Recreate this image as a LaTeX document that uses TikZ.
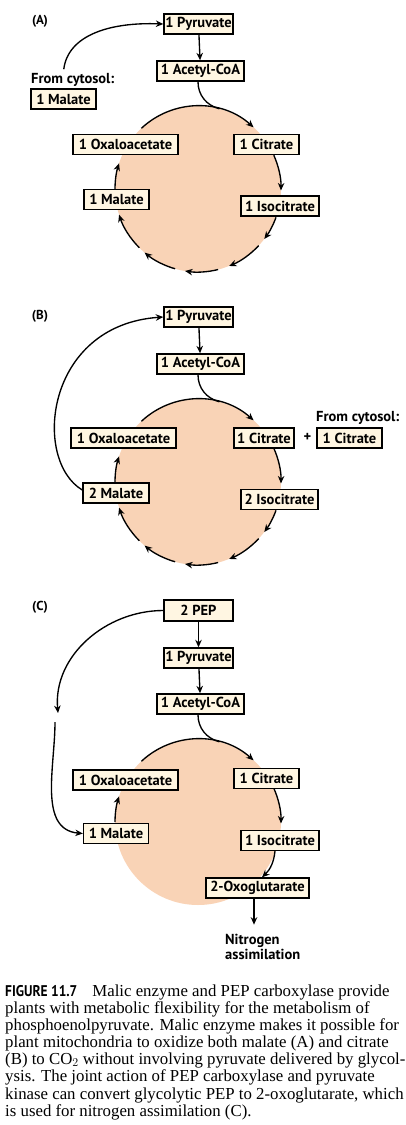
\documentclass[tikz,border=0pt]{standalone}
\usepackage{fontspec}
\usepackage{graphicx}
\setmainfont{Liberation Serif}
\newfontfamily\labfont{PT Sans}
\usetikzlibrary{arrows.meta}
\definecolor{boxfill}{HTML}{FFF6E2}
\definecolor{circfill}{HTML}{F9D3B6}
\tikzset{
 box/.style={draw=black, line width=1.4pt, fill=boxfill, inner sep=0pt, minimum height=20pt,
   font=\labfont\bfseries\fontsize{14.5}{16}\selectfont},
 lab/.style={inner sep=0pt, font=\labfont\bfseries\fontsize{14.5}{16}\selectfont},
 plab/.style={inner sep=0pt, font=\labfont\bfseries\fontsize{13}{15}\selectfont},
 arr/.style={line width=1.35pt, -{Stealth[length=7.5pt,width=6.5pt]}},
 cyc/.style={line width=1.35pt},
 capline/.style={anchor=base west, inner sep=0pt, font=\fontsize{16.8}{17}\selectfont},
}
\begin{document}
\begin{tikzpicture}[x=1pt,y=1pt]
\useasboundingbox (0,0) rectangle (405,-1125);
% ================= Panel A =================
\coordinate (aC) at (198,-189);
\fill[circfill] (aC) circle (83pt);
\draw[arr] ([shift={(133:83pt)}]aC) arc[start angle=133,end angle=48,radius=83pt];
\draw[arr] ([shift={(24:83pt)}]aC) arc[start angle=24,end angle=-1,radius=83pt];
\draw[arr] ([shift={(-20:83pt)}]aC) arc[start angle=-20,end angle=-37,radius=83pt];
\draw[arr] ([shift={(-43:83pt)}]aC) arc[start angle=-43,end angle=-68,radius=83pt];
\draw[arr] ([shift={(-76:83pt)}]aC) arc[start angle=-76,end angle=-99,radius=83pt];
\draw[arr] ([shift={(-106:83pt)}]aC) arc[start angle=-106,end angle=-130,radius=83pt];
\draw[arr] ([shift={(-135:83pt)}]aC) arc[start angle=-135,end angle=-162,radius=83pt];
\draw[arr] ([shift={(180:83pt)}]aC) arc[start angle=180,end angle=162,radius=83pt];
\coordinate (aJ) at ([shift={(75:83pt)}]aC);
\node[plab] (aLab) at (40,-21) {(A)};
\node[box, minimum width=69pt] (aPyr) at (198.5,-24) {1 Pyruvate};
\node[box, minimum width=87pt] (aAce) at (200.5,-71) {1 Acetyl-CoA};
\node[lab, anchor=west] (aFrom) at (31,-80) {From cytosol:};
\node[box, minimum width=65pt] (aMalc) at (63.5,-99) {1 Malate};
\node[box, minimum width=105pt] (aOxa) at (125.5,-144.5) {1 Oxaloacetate};
\node[box, minimum width=65pt] (aCit) at (266.5,-144.5) {1 Citrate};
\node[box, minimum width=65pt] (aMal) at (116.5,-199.5) {1 Malate};
\node[box, minimum width=78pt] (aIso) at (280,-206) {1 Isocitrate};
\draw[arr] (aPyr) -- (aAce);
\draw[cyc] ([xshift=-2.5pt]aAce.south) to[out=-90,in=165] (aJ);
\draw[arr] ([xshift=-9pt,yshift=4pt]aFrom.north) .. controls (68,-35) and (110,-22) .. (aPyr.west);
% ================= Panel B =================
\coordinate (bC) at (198,-482);
\fill[circfill] (bC) circle (83pt);
\draw[arr] ([shift={(133:83pt)}]bC) arc[start angle=133,end angle=48,radius=83pt];
\draw[arr] ([shift={(24:83pt)}]bC) arc[start angle=24,end angle=-1,radius=83pt];
\draw[arr] ([shift={(-20:83pt)}]bC) arc[start angle=-20,end angle=-37,radius=83pt];
\draw[arr] ([shift={(-43:83pt)}]bC) arc[start angle=-43,end angle=-68,radius=83pt];
\draw[arr] ([shift={(-76:83pt)}]bC) arc[start angle=-76,end angle=-99,radius=83pt];
\draw[arr] ([shift={(-106:83pt)}]bC) arc[start angle=-106,end angle=-130,radius=83pt];
\draw[arr] ([shift={(-135:83pt)}]bC) arc[start angle=-135,end angle=-162,radius=83pt];
\draw[arr] ([shift={(180:83pt)}]bC) arc[start angle=180,end angle=162,radius=83pt];
\coordinate (bJ) at ([shift={(75:83pt)}]bC);
\node[plab] (bLab) at (40,-316) {(B)};
\node[box, minimum width=69pt] (bPyr) at (198.5,-317) {1 Pyruvate};
\node[box, minimum width=87pt] (bAce) at (200.5,-364) {1 Acetyl-CoA};
\node[box, minimum width=105pt] (bOxa) at (123.5,-438) {1 Oxaloacetate};
\node[box, minimum width=60pt] (bCit) at (264,-438) {1 Citrate};
\node[lab] (bPlus) at (307.5,-437) {+};
\node[lab, anchor=west] (bFrom) at (316,-418) {From cytosol:};
\node[box, minimum width=65pt] (bCitc) at (349.5,-438) {1 Citrate};
\node[box, minimum width=66pt] (bMal) at (116,-493) {2 Malate};
\node[box, minimum width=77pt] (bIso) at (279.5,-499.5) {2 Isocitrate};
\draw[arr] (bPyr) -- (bAce);
\draw[cyc] ([xshift=-2.5pt]bAce.south) to[out=-90,in=165] (bJ);
\draw[arr] ([yshift=3pt]bMal.west) .. controls (32,-460) and (45,-325) .. (bPyr.west);
% ================= Panel C =================
\coordinate (cC) at (198,-822);
\fill[circfill] (cC) circle (83pt);
\draw[arr] ([shift={(133:83pt)}]cC) arc[start angle=133,end angle=48,radius=83pt];
\draw[arr] ([shift={(24:83pt)}]cC) arc[start angle=24,end angle=-1,radius=83pt];
\draw[arr] ([shift={(180:83pt)}]cC) arc[start angle=180,end angle=162,radius=83pt];
\coordinate (cJ) at ([shift={(75:83pt)}]cC);
\node[plab] (cLab) at (40,-607) {(C)};
\node[box, minimum width=69pt, minimum height=21pt] (cPEP) at (198.5,-610.5) {2 PEP};
\node[box, minimum width=69pt] (cPyr) at (198.5,-658) {1 Pyruvate};
\node[box, minimum width=87pt] (cAce) at (200.5,-704) {1 Acetyl-CoA};
\node[box, minimum width=105pt] (cOxa) at (125.5,-780) {1 Oxaloacetate};
\node[box, minimum width=65pt] (cCit) at (266.5,-778.5) {1 Citrate};
\node[box, minimum width=65pt] (cMal) at (116,-833.5) {1 Malate};
\node[box, minimum width=78pt] (cIso) at (280,-840.5) {1 Isocitrate};
\node[box, minimum width=103pt] (cOxo) at (257.5,-888) {2-Oxoglutarate};
\node[lab, anchor=north west, align=left, font=\labfont\bfseries\fontsize{14.5}{15}\selectfont] (cN) at (225,-934) {Nitrogen\\assimilation};
\coordinate (cA1) at (58,-713);
\coordinate (cA2) at (55,-722);
\draw[arr] (cPEP) -- (cPyr);
\draw[arr] (cPyr) -- (cAce);
\draw[cyc] ([xshift=-2.5pt]cAce.south) to[out=-90,in=165] (cJ);
\draw[arr] ([xshift=-5pt]cIso.south) to[bend left=20] ([xshift=4.5pt]cOxo.north);
\draw[arr] ([xshift=-3.5pt]cOxo.south) -- ([xshift=-3.5pt,yshift=-26pt]cOxo.south);
\draw[arr] (cPEP.west) to[out=180,in=95] (cA1);
\draw[arr] (cA2) to[out=-90,in=175] (cMal.west);
% ================= Caption =================
\node[capline] (cap1) at (5,-996) {\scalebox{0.87}[1]{\labfont\bfseries\fontsize{15.5}{17}\selectfont FIGURE 11.7}\hspace{15pt}Malic enzyme and PEP carboxylase provide};
\node[capline] (cap2) at (5,-1013) {plants with metabolic flexibility for the metabolism of};
\node[capline] (cap3) at (5,-1030) {phosphoenolpyruvate. Malic enzyme makes it possible for};
\node[capline] (cap4) at (5,-1047) {plant mitochondria to oxidize both malate (A) and citrate};
\node[capline] (cap5) at (5,-1064) {(B) to CO$_2$ without involving pyruvate delivered by glycol-};
\node[capline] (cap6) at (5,-1081) {ysis. The joint action of PEP carboxylase and pyruvate};
\node[capline] (cap7) at (5,-1099) {kinase can convert glycolytic PEP to 2-oxoglutarate, which};
\node[capline] (cap8) at (5,-1116) {is used for nitrogen assimilation (C).};
\end{tikzpicture}
\end{document}
